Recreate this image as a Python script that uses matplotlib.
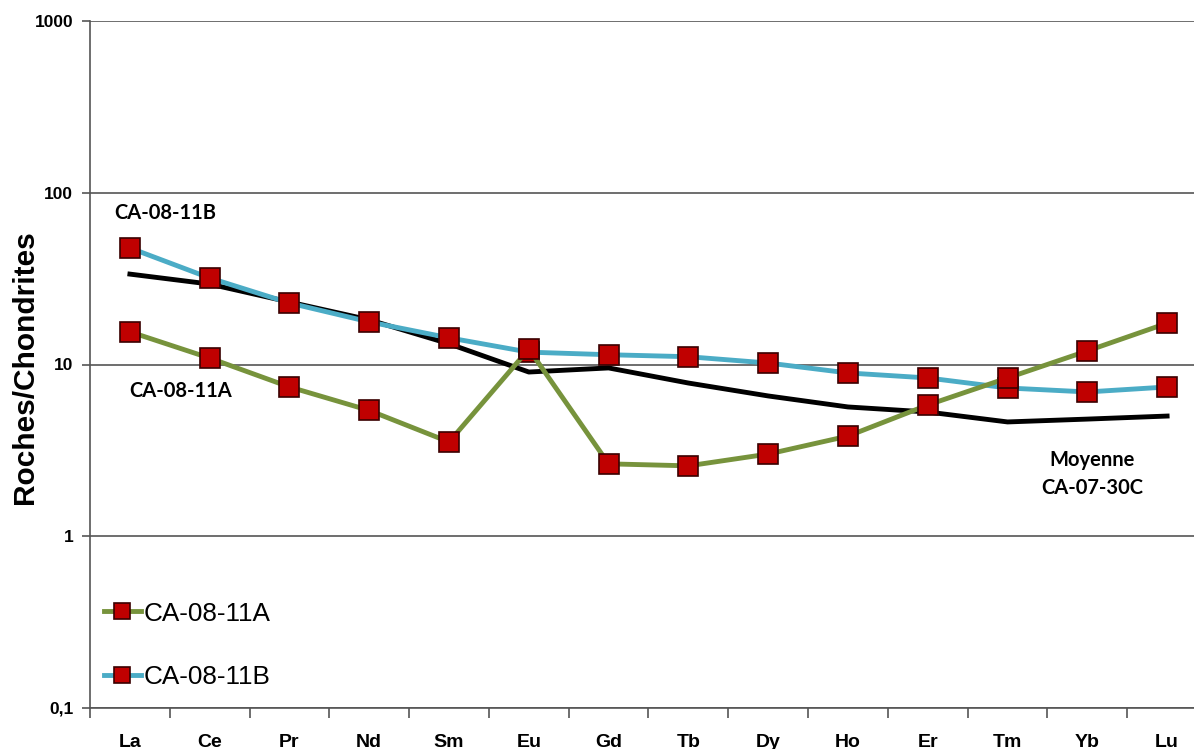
import matplotlib.pyplot as plt
from matplotlib.ticker import FixedLocator, NullLocator

elements = ["La", "Ce", "Pr", "Nd", "Sm", "Eu", "Gd", "Tb", "Dy", "Ho", "Er", "Tm", "Yb", "Lu"]

ca_08_11a = [15.5, 10.9, 7.4, 5.4, 3.54, 12.3, 2.64, 2.57, 3.01, 3.83, 5.81, 8.35, 12.0, 17.4]
ca_08_11b = [47.7, 31.9, 22.8, 17.7, 14.3, 11.8, 11.4, 11.1, 10.2, 8.93, 8.35, 7.3, 6.92, 7.4]
moyenne_ca_07_30c = [33.6, 29.4, 23.1, 18.2, 13.2, 9.04, 9.55, 7.8, 6.56, 5.66, 5.29, 4.63, 4.81, 5.01]

y_ticks = [0.1, 1, 10, 100, 1000]
y_tick_labels = ["0,1", "1", "10", "100", "1000"]

green = "#77933C"
blue = "#4BACC6"
red = "#C00000"
axis_grey = "#555555"

fig = plt.figure(figsize=(11.94, 7.49), dpi=100)
# category axis runs a little past the right edge of the figure
ax = fig.add_axes([90 / 1194, 1 - 708 / 749, 1117 / 1194, 687 / 749])

x = list(range(len(elements)))
marker_style = dict(marker="s", markersize=15, markerfacecolor=red,
                    markeredgecolor="#3a0000", markeredgewidth=1.2)

ax.plot(x, moyenne_ca_07_30c, "-", color="black", lw=3.5, zorder=3)
ax.plot(x, ca_08_11b, "-", color=blue, lw=3.5, label="CA-08-11B", zorder=4, **marker_style)
ax.plot(x, ca_08_11a, "-", color=green, lw=3.5, label="CA-08-11A", zorder=5, **marker_style)

ax.set_yscale("log")
ax.set_ylim(0.1, 1000)
ax.set_xlim(-0.5, len(elements) - 0.5)
ax.yaxis.set_major_locator(FixedLocator(y_ticks))
ax.yaxis.set_minor_locator(NullLocator())
ax.set_yticklabels(y_tick_labels, fontsize=12.5, fontweight="bold", family="Liberation Sans")
ax.grid(axis="y", color=axis_grey, lw=1.2)
ax.set_axisbelow(True)

ax.set_xticks(x)
ax.set_xticklabels(elements, fontsize=14, fontweight="bold", family="Liberation Sans")
ax.set_xticks([i - 0.5 for i in range(len(elements) + 1)], minor=True)
ax.tick_params(axis="x", which="major", length=0, pad=18.5)
ax.tick_params(axis="x", which="minor", length=7, width=1.2, color=axis_grey)
ax.tick_params(axis="y", length=6, width=1.2, color=axis_grey, pad=6)

for side in ("top", "right"):
    ax.spines[side].set_visible(False)
for side in ("left", "bottom"):
    ax.spines[side].set_color(axis_grey)
    ax.spines[side].set_linewidth(1.2)

fig.text(25 / 1194, 1 - 367 / 749, "Roches/Chondrites", rotation=90, va="center", ha="center",
         fontsize=21.5, fontweight="bold", family="Liberation Sans")

label_font = dict(fontsize=14.5, fontweight="bold", family="Lato")
ax.text(0.44, 76, "CA-08-11B", ha="center", va="center", **label_font)
ax.text(0.64, 7.0, "CA-08-11A", ha="center", va="center", **label_font)
ax.text(12.06, 2.3, "Moyenne\nCA-07-30C", ha="center", va="center", linespacing=1.5, **label_font)

handles, labels = ax.get_legend_handles_labels()
ax.legend(handles[::-1], labels[::-1], loc="upper left", bbox_to_anchor=(0.0125, 0.155),
          frameon=False, borderpad=0, borderaxespad=0, handlelength=1.4, handletextpad=0.12,
          labelspacing=1.5, prop={"family": "Liberation Sans", "size": 18.8}, markerscale=0.75)

fig.savefig("out.png", dpi=100)
